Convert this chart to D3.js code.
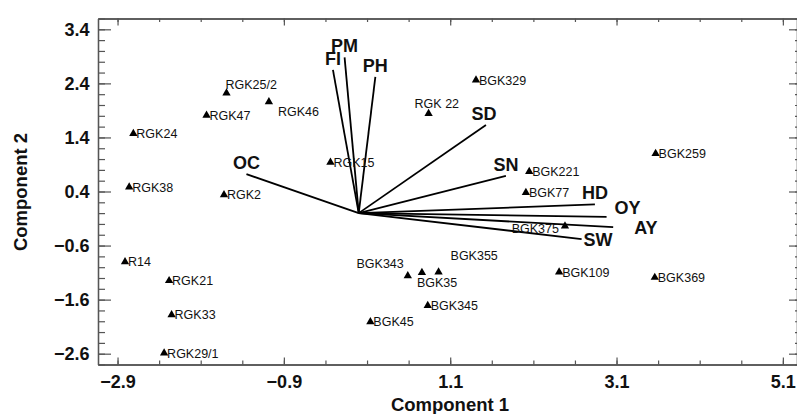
<!DOCTYPE html>
<html>
<head>
<meta charset="utf-8">
<script src="https://cdn.jsdelivr.net/npm/d3@7"></script>
<style>
  body { margin: 0; background: #fff; }
  svg { display: block; font-family: "Liberation Sans", Arial, sans-serif; }
</style>
</head>
<body>
<svg width="797" height="414"></svg>
<script>
// sample scores
let names = ['RGK25/2', 'RGK46', 'RGK47', 'RGK24', 'RGK38', 'RGK2', 'RGK15', 'RGK 22', 'BGK329',
  'BGK221', 'BGK77', 'BGK259', 'BGK375', 'BGK109', 'BGK369', 'R14', 'RGK21', 'RGK33', 'RGK29/1',
  'BGK343', 'BGK35', 'BGK355', 'BGK345', 'BGK45']
let comp1 = [-1.59, -1.08, -1.83, -2.71, -2.76, -1.62, -0.34, 0.84, 1.41,
  2.05, 2.01, 3.57, 2.48, 2.41, 3.56, -2.81, -2.28, -2.25, -2.34,
  0.59, 0.76, 0.96, 0.83, 0.14]
let comp2 = [2.22, 2.06, 1.81, 1.47, 0.48, 0.34, 0.94, 1.84, 2.46,
  0.77, 0.38, 1.10, -0.24, -1.09, -1.19, -0.90, -1.25, -1.88, -2.59,
  -1.16, -1.10, -1.09, -1.71, -2.01]

// variable loadings (biplot vectors)
let vars = ['OC', 'FI', 'PM', 'PH', 'SD', 'SN', 'HD', 'OY', 'AY', 'SW']
let varComp1 = [-1.35, -0.31, -0.17, 0.20, 1.53, 1.77, 2.84, 2.98, 3.06, 2.68]
let varComp2 = [0.72, 2.65, 2.88, 2.52, 1.63, 0.69, 0.16, -0.07, -0.26, -0.48]

let xTicks = [-2.9, -0.9, 1.1, 3.1, 5.1]
let yTicks = [-2.6, -1.6, -0.6, 0.4, 1.4, 2.4, 3.4]

// label placement tweaks (pixels)
let pointLabelPos = {
  'RGK25/2': [-1, -4, 'start'],
  'RGK46': [9, 14, 'start'],
  'RGK 22': [-14, -6, 'start'],
  'BGK343': [-4, -8, 'end'],
  'BGK35': [-5, 14, 'start'],
  'BGK355': [12, -12, 'start'],
  'BGK375': [-6, 7, 'end']
}
let varLabelPos = {
  'SD': [-2, -5, 'middle'],
  'OY': [8, -3, 'start'],
  'AY': [21, 7, 'start'],
  'SW': [2, 7, 'start']
}

let plotLeft = 98, plotRight = 797, plotTop = 18.5, plotBottom = 364.5
let svg = d3.select('svg')

let x = d3.scaleLinear().domain([-3.135, 5.27]).range([plotLeft, plotRight])
let y = d3.scaleLinear().domain([-2.8, 3.6]).range([plotBottom, plotTop])

let xMinor = d3.range(-3.4, 5.3, 0.5).map(v => +v.toFixed(1)).filter(v => v >= -3.1)
let yMinor = d3.range(-2.8, 3.61, 0.2).map(v => +v.toFixed(1))

let axisColor = '#555'

function styleAxis(g) {
  g.select('.domain').attr('stroke', axisColor).attr('stroke-width', 1.3)
  g.selectAll('.tick line').attr('stroke', axisColor).attr('stroke-width', 1.2)
  g.selectAll('.tick text')
    .attr('fill', '#111')
    .style('font-family', '"Liberation Sans", Arial, sans-serif')
    .style('font-weight', 'bold')
    .style('font-size', '18px')
}

// minor ticks
svg.append('g').attr('transform', `translate(0,${plotBottom})`)
  .call(d3.axisBottom(x).tickValues(xMinor).tickSize(-4).tickSizeOuter(0).tickFormat(''))
  .call(styleAxis)
svg.append('g').attr('transform', `translate(0,${plotTop})`)
  .call(d3.axisTop(x).tickValues(xMinor).tickSize(-3.5).tickSizeOuter(0).tickFormat(''))
  .call(styleAxis)
svg.append('g').attr('transform', `translate(${plotLeft},0)`)
  .call(d3.axisLeft(y).tickValues(yMinor).tickSize(-7).tickSizeOuter(0).tickFormat(''))
  .call(styleAxis)
svg.append('g').attr('transform', `translate(${plotRight},0)`)
  .call(d3.axisRight(y).tickValues(yMinor).tickSize(-2).tickSizeOuter(0).tickFormat(''))
  .call(styleAxis)

// major ticks
svg.append('g').attr('transform', `translate(0,${plotBottom})`)
  .call(d3.axisBottom(x).tickValues(xTicks).tickSize(-7).tickSizeOuter(0).tickPadding(11).tickFormat(d3.format('.1f')))
  .call(styleAxis)
svg.append('g').attr('transform', `translate(0,${plotTop})`)
  .call(d3.axisTop(x).tickValues(xTicks).tickSize(-7).tickSizeOuter(0).tickFormat(''))
  .call(styleAxis)
svg.append('g').attr('transform', `translate(${plotLeft},0)`)
  .call(d3.axisLeft(y).tickValues(yTicks).tickSize(-13).tickSizeOuter(0).tickPadding(8.5).tickFormat(d3.format('.1f')))
  .call(styleAxis)
svg.append('g').attr('transform', `translate(${plotRight},0)`)
  .call(d3.axisRight(y).tickValues(yTicks).tickSize(-8).tickSizeOuter(0).tickFormat(''))
  .call(styleAxis)

// axis titles
svg.append('text')
  .attr('x', 450).attr('y', 410.5)
  .attr('text-anchor', 'middle')
  .style('font-weight', 'bold').style('font-size', '18.5px').attr('fill', '#111')
  .text('Component 1')
svg.append('text')
  .attr('transform', 'translate(27,192) rotate(-90)')
  .attr('text-anchor', 'middle')
  .style('font-weight', 'bold').style('font-size', '18.5px').attr('fill', '#111')
  .text('Component 2')

// vectors
let vecData = vars.map((v, i) => ({ name: v, c1: varComp1[i], c2: varComp2[i] }))
svg.append('g').selectAll('line')
  .data(vecData)
  .join('line')
  .attr('x1', x(0)).attr('y1', y(0))
  .attr('x2', d => x(d.c1)).attr('y2', d => y(d.c2))
  .attr('stroke', '#000').attr('stroke-width', 1.8)

svg.append('g').selectAll('text')
  .data(vecData)
  .join('text')
  .attr('x', d => x(d.c1) + (varLabelPos[d.name] || [0])[0])
  .attr('y', d => y(d.c2) + (varLabelPos[d.name] || [0, -5])[1])
  .attr('text-anchor', d => (varLabelPos[d.name] || [0, 0, 'middle'])[2])
  .style('font-weight', 'bold').style('font-size', '18px').attr('fill', '#111')
  .text(d => d.name)

// points
let pts = names.map((n, i) => ({ name: n, c1: comp1[i], c2: comp2[i] }))
svg.append('g').selectAll('path')
  .data(pts)
  .join('path')
  .attr('transform', d => `translate(${x(d.c1)},${y(d.c2)})`)
  .attr('d', d3.symbol(d3.symbolTriangle, 30))
  .attr('fill', '#000')

svg.append('g').selectAll('text')
  .data(pts)
  .join('text')
  .attr('x', d => x(d.c1) + (pointLabelPos[d.name] || [3])[0])
  .attr('y', d => y(d.c2) + (pointLabelPos[d.name] || [3, 4.5])[1])
  .attr('text-anchor', d => (pointLabelPos[d.name] || [0, 0, 'start'])[2])
  .style('font-size', '12.5px').attr('fill', '#111')
  .text(d => d.name)
</script>
</body>
</html>
